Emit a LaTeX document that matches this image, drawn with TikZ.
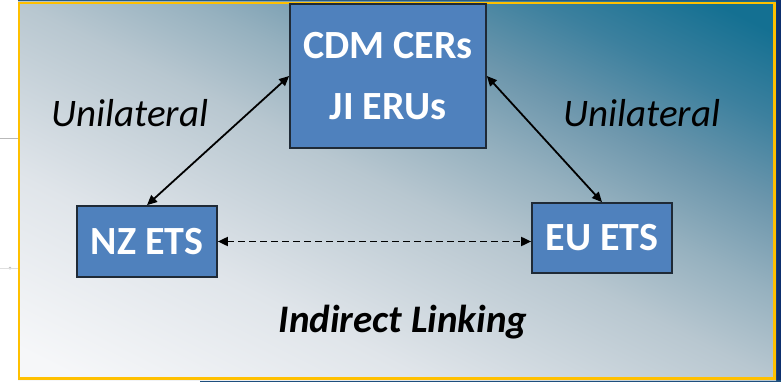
\documentclass[tikz,border=0pt]{standalone}
\usepackage{fontspec}
\setmainfont{Carlito}
\usetikzlibrary{arrows.meta}
\definecolor{boxblue}{HTML}{4F81BD}
\definecolor{boxedge}{HTML}{1F2A36}
\definecolor{frameyellow}{HTML}{FFC000}
\definecolor{navy}{HTML}{0D2F6E}
\definecolor{topline}{HTML}{2A5A80}
\definecolor{footbar}{HTML}{1E4F7E}
% panel gradient, from the lower left corner to the upper right one
\pgfdeclareverticalshading{panel}{100bp}{%
  color(0bp)=(rgb,255:red,246;green,247;blue,249);
  color(30.6bp)=(rgb,255:red,246;green,247;blue,249);
  color(40.3bp)=(rgb,255:red,224;green,229;blue,234);
  color(50bp)=(rgb,255:red,184;green,199;blue,208);
  color(54.8bp)=(rgb,255:red,150;green,177;blue,191);
  color(59.7bp)=(rgb,255:red,108;green,150;blue,172);
  color(64.5bp)=(rgb,255:red,60;green,128;blue,158);
  color(69.4bp)=(rgb,255:red,20;green,112;blue,146);
  color(100bp)=(rgb,255:red,20;green,112;blue,146)}
\tikzset{
  system/.style={draw=boxedge, line width=1.7pt, fill=boxblue, text=white,
    font=\bfseries\fontsize{40}{61}\selectfont, align=center, inner sep=0pt},
  label/.style={font=\itshape\fontsize{39}{47}\selectfont, text=black},
  link/.style={line width=1.8pt, {Triangle[length=10pt,width=9pt]}-{Triangle[length=10pt,width=9pt]}},
}
\begin{document}
\begin{tikzpicture}[x=1pt,y=-1pt]
  \useasboundingbox (0,0) rectangle (781,382);
  % page surroundings
  \fill[white] (0,0) rectangle (781,382);
  \draw[gray!55, line width=1pt] (0,139) -- (18,139);
  \fill[gray!50] (10,268) circle (1.5);
  \draw[gray!25, line width=0.6pt] (0,268) -- (18,268);
  \fill[topline] (18,0) rectangle (781,2);
  \fill[navy] (776,0) rectangle (781,382);
  \fill[footbar] (200,380) rectangle (781,382);
  % gradient panel
  \begin{scope}
    \clip (18,2) rectangle (776,380);
    \begin{scope}[transform canvas={rotate around={-26.5:(397,191)}}]
      \shade[shading=panel] (-53,-209) rectangle (847,591);
    \end{scope}
  \end{scope}
  \draw[frameyellow, line width=2.6pt] (18.8,3.2) rectangle (774.5,378.5);
  % systems
  \node[system, minimum width=196pt, minimum height=144pt] (cdm) at (388,76) {CDM CERs\\JI ERUs};
  \node[system, minimum width=140pt, minimum height=71pt] (nz) at (147,241.5) {NZ ETS};
  \node[system, minimum width=140pt, minimum height=70pt] (eu) at (602,238) {EU ETS};
  % labels
  \node[label] (ul) at (130,113) {Unilateral};
  \node[label] (ur) at (642,113) {Unilateral};
  \node[label, font=\bfseries\itshape\fontsize{39}{47}\selectfont] (ind) at (403,322) {Indirect Linking};
  % links
  \draw[link] (nz.north) -- (cdm.west);
  \draw[link] (cdm.east) -- (eu.north);
  \draw[link, dash pattern=on 7pt off 4pt] (nz.east) -- (nz.east -| eu.west);
\end{tikzpicture}
\end{document}
